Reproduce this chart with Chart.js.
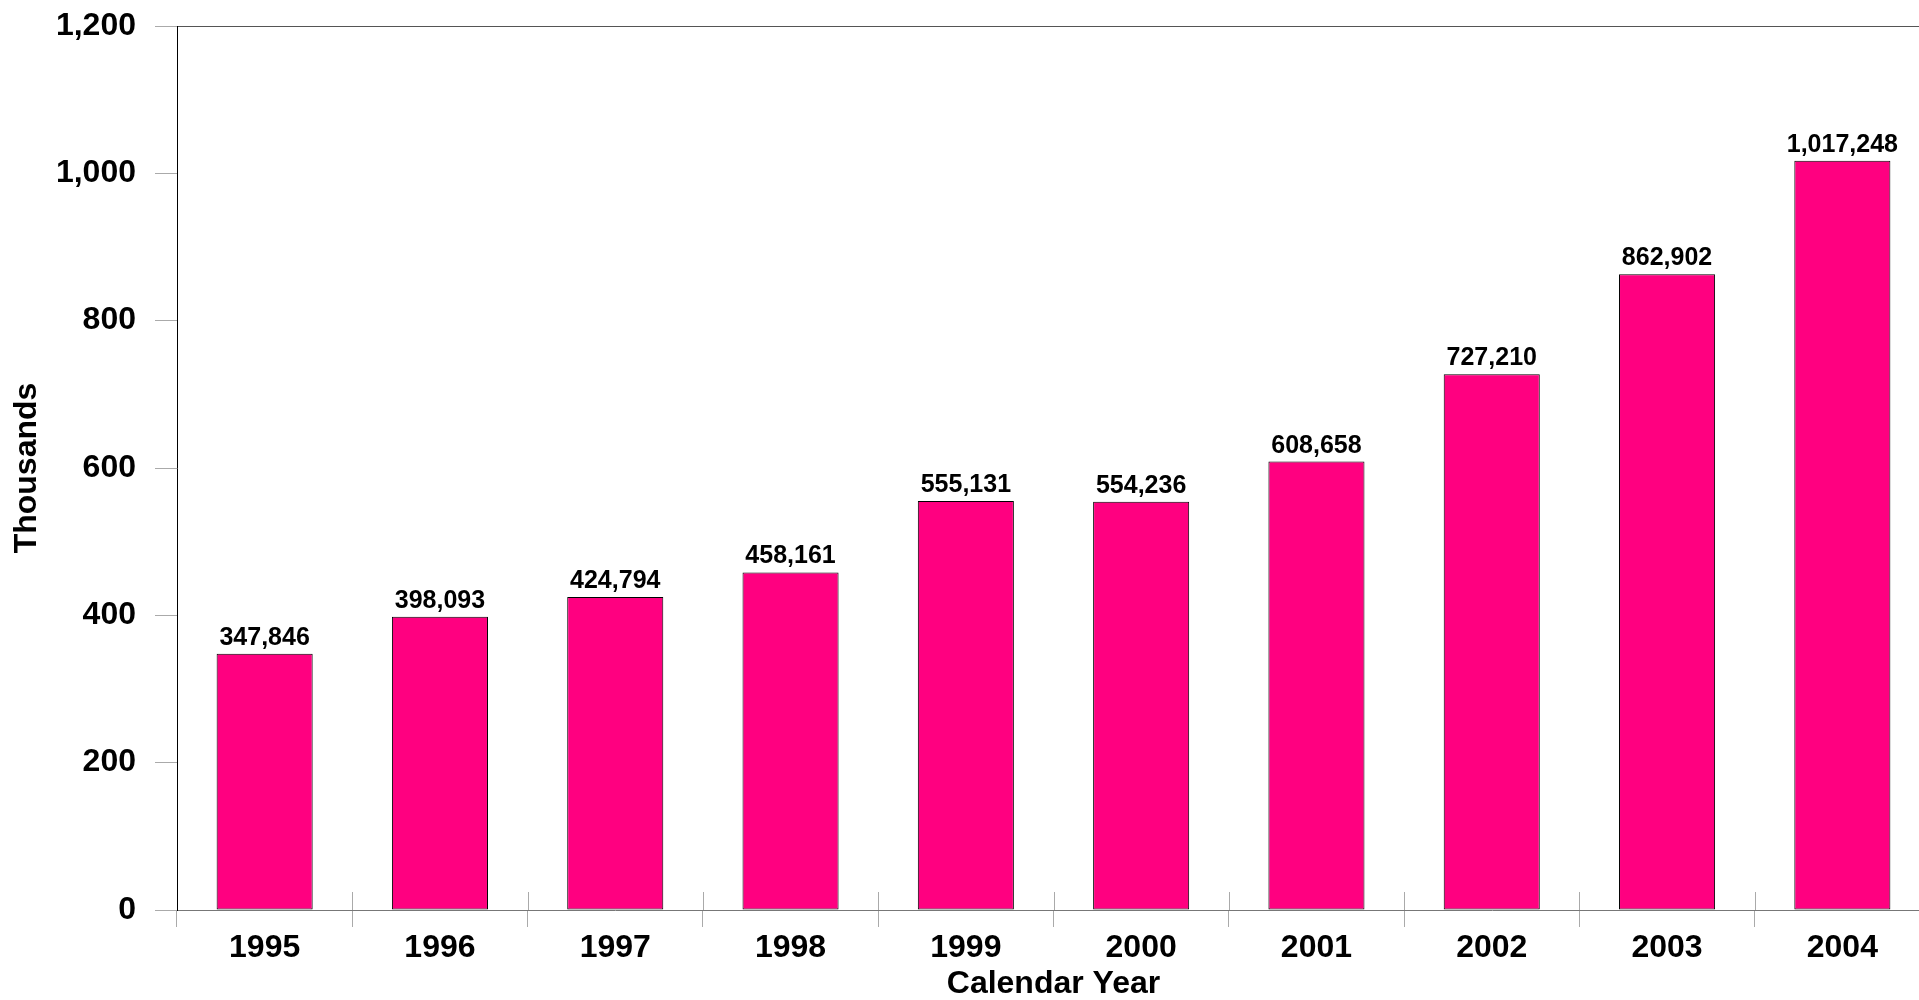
<!DOCTYPE html>
<html>
<head>
<meta charset="utf-8">
<script src="https://cdn.jsdelivr.net/npm/chart.js@4/dist/chart.umd.min.js"></script>
<style>
    html, body { margin: 0; padding: 0; background: #fff; overflow: hidden; }
    #wrap { width: 1935px; height: 1000px; }
</style>
</head>
<body>
<div id="wrap"><canvas id="yearChart"></canvas></div>
<script>
// values (raw counts, axis is in thousands)
const years = ['1995', '1996', '1997', '1998', '1999', '2000', '2001', '2002', '2003', '2004'];
const counts = [347846, 398093, 424794, 458161, 555131, 554236, 608658, 727210, 862902, 1017248];
const yTicks = [0, 200, 400, 600, 800, 1000, 1200];

const thousands = counts.map(c => c / 1000);
const fontFamily = '"Liberation Sans", Arial, sans-serif';

// value labels on top of each bar
const barLabels = {
    id: 'barLabels',
    afterDatasetsDraw(chart) {
        const ctx = chart.ctx;
        const meta = chart.getDatasetMeta(0);
        ctx.save();
        ctx.font = 'bold 25px ' + fontFamily;
        ctx.fillStyle = '#000';
        ctx.textAlign = 'center';
        ctx.textBaseline = 'alphabetic';
        meta.data.forEach((bar, i) => {
            ctx.fillText(counts[i].toLocaleString('en-US'), bar.x, bar.y - 9);
        });
        ctx.restore();
    }
};

// the x tick marks cross the axis, draw the part above it
const crossTicks = {
    id: 'crossTicks',
    afterDraw(chart) {
        const x = chart.scales.x;
        const ctx = chart.ctx;
        const step = x.width / years.length;
        ctx.save();
        ctx.strokeStyle = '#aaa';
        ctx.lineWidth = 1;
        ctx.beginPath();
        for (let i = 1; i <= years.length; i++) {
            const px = Math.round(x.left + i * step) + 0.5;
            ctx.moveTo(px, x.top - 18);
            ctx.lineTo(px, x.top);
        }
        ctx.stroke();
        ctx.restore();
    }
};

new Chart(document.getElementById('yearChart'), {
    type: 'bar',
    data: {
        labels: years,
        datasets: [{
            data: thousands,
            backgroundColor: '#FF0080',
            borderColor: '#000',
            borderWidth: 1,
            borderSkipped: false,
            categoryPercentage: 1,
            barPercentage: 0.548
        }]
    },
    options: {
        responsive: true,
        maintainAspectRatio: false,
        animation: false,
        layout: { padding: { top: 26, right: 5, left: 0, bottom: 0 } },
        plugins: {
            legend: { display: false },
            tooltip: { enabled: false }
        },
        scales: {
            x: {
                afterFit(scale) {
                    scale.height = 90;
                    scale.paddingLeft = 0;
                    scale.paddingRight = 0;
                },
                grid: {
                    offset: true,
                    drawOnChartArea: false,
                    tickLength: 17,
                    color: '#aaa'
                },
                border: { color: '#777', width: 1 },
                ticks: {
                    padding: 2,
                    color: '#000',
                    maxRotation: 0,
                    font: { family: fontFamily, size: 32, weight: 'bold' }
                },
                title: {
                    display: true,
                    text: 'Calendar Year',
                    color: '#000',
                    padding: { top: 0, bottom: 0 },
                    font: { family: fontFamily, size: 32, weight: 'bold', lineHeight: 1 }
                }
            },
            y: {
                min: yTicks[0],
                max: yTicks[yTicks.length - 1],
                afterFit(scale) {
                    scale.width = 177;
                    scale.paddingTop = 0;
                    scale.paddingBottom = 0;
                },
                afterBuildTicks(scale) { scale.ticks = yTicks.map(v => ({ value: v })); },
                grid: {
                    drawOnChartArea: true,
                    tickLength: 22,
                    color: c => (c.tick && c.tick.value === 1200) ? '#555' : 'rgba(0,0,0,0)',
                    tickColor: '#aaa'
                },
                border: { color: '#000', width: 1 },
                ticks: {
                    padding: 19,
                    color: '#000',
                    font: { family: fontFamily, size: 32, weight: 'bold' },
                    callback: v => v.toLocaleString('en-US')
                },
                title: {
                    display: true,
                    text: 'Thousands',
                    color: '#000',
                    padding: { top: 8, bottom: 0 },
                    font: { family: fontFamily, size: 32, weight: 'bold' }
                }
            }
        }
    },
    plugins: [barLabels, crossTicks]
});
</script>
</body>
</html>
